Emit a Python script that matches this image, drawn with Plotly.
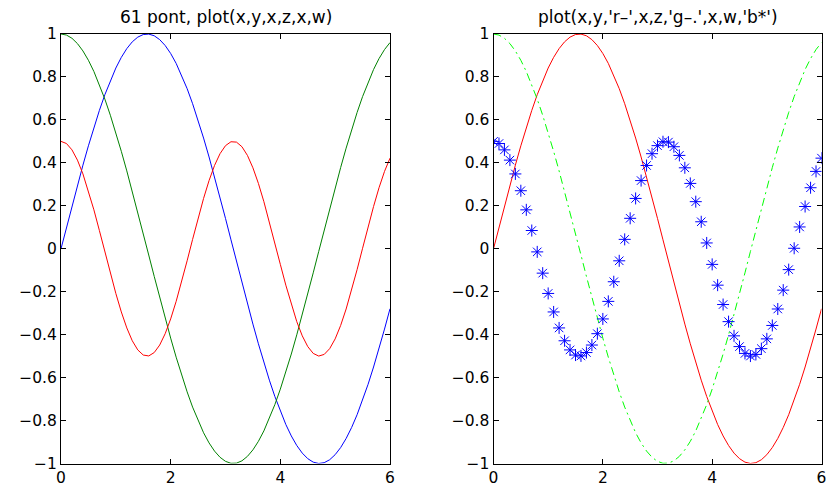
import plotly.graph_objects as go

# Sample abscissa: 61 points from 0 to 6
x = [0.0, 0.1, 0.2, 0.3, 0.4, 0.5, 0.6, 0.7, 0.8, 0.9,
     1.0, 1.1, 1.2, 1.3, 1.4, 1.5, 1.6, 1.7, 1.8, 1.9,
     2.0, 2.1, 2.2, 2.3, 2.4, 2.5, 2.6, 2.7, 2.8, 2.9,
     3.0, 3.1, 3.2, 3.3, 3.4, 3.5, 3.6, 3.7, 3.8, 3.9,
     4.0, 4.1, 4.2, 4.3, 4.4, 4.5, 4.6, 4.7, 4.8, 4.9,
     5.0, 5.1, 5.2, 5.3, 5.4, 5.5, 5.6, 5.7, 5.8, 5.9, 6.0]

y = [0.0000, 0.0998, 0.1987, 0.2955, 0.3894, 0.4794, 0.5646, 0.6442, 0.7174, 0.7833,
     0.8415, 0.8912, 0.9320, 0.9636, 0.9854, 0.9975, 0.9996, 0.9917, 0.9738, 0.9463,
     0.9093, 0.8632, 0.8085, 0.7457, 0.6755, 0.5985, 0.5155, 0.4274, 0.3350, 0.2392,
     0.1411, 0.0416, -0.0584, -0.1577, -0.2555, -0.3508, -0.4425, -0.5298, -0.6119, -0.6878,
     -0.7568, -0.8183, -0.8716, -0.9162, -0.9516, -0.9775, -0.9937, -0.9999, -0.9962, -0.9825,
     -0.9589, -0.9258, -0.8835, -0.8323, -0.7728, -0.7055, -0.6313, -0.5507, -0.4646, -0.3739,
     -0.2794]

z = [1.0000, 0.9950, 0.9801, 0.9553, 0.9211, 0.8776, 0.8253, 0.7648, 0.6967, 0.6216,
     0.5403, 0.4536, 0.3624, 0.2675, 0.1700, 0.0707, -0.0292, -0.1288, -0.2272, -0.3233,
     -0.4161, -0.5048, -0.5885, -0.6663, -0.7374, -0.8011, -0.8569, -0.9041, -0.9422, -0.9710,
     -0.9900, -0.9991, -0.9983, -0.9875, -0.9668, -0.9365, -0.8968, -0.8481, -0.7910, -0.7259,
     -0.6536, -0.5748, -0.4903, -0.4008, -0.3073, -0.2108, -0.1122, -0.0124, 0.0875, 0.1865,
     0.2837, 0.3780, 0.4685, 0.5544, 0.6347, 0.7087, 0.7756, 0.8347, 0.8855, 0.9275,
     0.9602]

w = [0.5000, 0.4900, 0.4605, 0.4127, 0.3484, 0.2702, 0.1812, 0.0850, -0.0146, -0.1136,
     -0.2081, -0.2943, -0.3687, -0.4285, -0.4711, -0.4950, -0.4991, -0.4834, -0.4484, -0.3955,
     -0.3268, -0.2451, -0.1536, -0.0561, 0.0437, 0.1418, 0.2343, 0.3174, 0.3878, 0.4427,
     0.4801, 0.4983, 0.4966, 0.4751, 0.4347, 0.3769, 0.3042, 0.2193, 0.1256, 0.0270,
     -0.0728, -0.1696, -0.2597, -0.3394, -0.4056, -0.4556, -0.4874, -0.4997, -0.4920, -0.4652,
     -0.4196, -0.3571, -0.2805, -0.1927, -0.0972, 0.0022, 0.1015, 0.1967, 0.2842, 0.3602,
     0.4219]

x_ticks = [0, 2, 4, 6]
x_ticktext = ["0", "2", "4", "6"]
y_ticks = [-1, -0.8, -0.6, -0.4, -0.2, 0, 0.2, 0.4, 0.6, 0.8, 1]
y_ticktext = ["\u22121", "\u22120.8", "\u22120.6", "\u22120.4", "\u22120.2", "0",
              "0.2", "0.4", "0.6", "0.8", "1"]

titles = ["61 pont, plot(x,y,x,z,x,w)", "plot(x,y,'r\u2013',x,z,'g\u2013.',x,w,'b*')"]

W, H = 826, 486
TICK_FONT = dict(family="DejaVu Sans, Liberation Sans, Arial", size=15.5, color="black")
TITLE_FONT = dict(family="DejaVu Sans, Liberation Sans, Arial", size=17, color="black")

fig = go.Figure()

# Left panel: default colour order
fig.add_trace(go.Scatter(x=x, y=y, mode="lines", line=dict(color="rgb(0,0,255)", width=1),
                         xaxis="x", yaxis="y"))
fig.add_trace(go.Scatter(x=x, y=z, mode="lines", line=dict(color="rgb(0,128,0)", width=1),
                         xaxis="x", yaxis="y"))
fig.add_trace(go.Scatter(x=x, y=w, mode="lines", line=dict(color="rgb(255,0,0)", width=1),
                         xaxis="x", yaxis="y"))

# Right panel: explicit line specs
fig.add_trace(go.Scatter(x=x, y=y, mode="lines", line=dict(color="rgb(255,0,0)", width=1),
                         xaxis="x2", yaxis="y2"))
fig.add_trace(go.Scatter(x=x, y=z, mode="lines",
                         line=dict(color="rgb(0,255,0)", width=1, dash="8px,4px,2px,4px"),
                         xaxis="x2", yaxis="y2"))
fig.add_trace(go.Scatter(x=x, y=w, mode="markers",
                         marker=dict(symbol="asterisk-open", size=10, color="rgb(0,0,255)",
                                     line=dict(color="rgb(0,0,255)", width=1)),
                         xaxis="x2", yaxis="y2"))

left_dom = [61 / W, 390 / W]
right_dom = [493.5 / W, 821.5 / W]
y_dom = [1 - 463.5 / H, 1 - 34 / H]

axis_common = dict(showgrid=False, zeroline=False, showline=True, linecolor="black",
                   linewidth=1, mirror="ticks", ticks="inside", ticklen=5,
                   tickcolor="black", tickwidth=1, tickfont=TICK_FONT, automargin=False,
                   ticklabeloverflow="allow")

fig.update_layout(
    width=W, height=H,
    margin=dict(l=0, r=0, t=0, b=0),
    paper_bgcolor="white", plot_bgcolor="white",
    showlegend=False,
    xaxis=dict(domain=left_dom, range=[0, 6], tickvals=x_ticks, ticktext=x_ticktext,
               anchor="y", **axis_common),
    yaxis=dict(domain=y_dom, range=[-1, 1], tickvals=y_ticks, ticktext=y_ticktext,
               anchor="x", **axis_common),
    xaxis2=dict(domain=right_dom, range=[0, 6], tickvals=x_ticks, ticktext=x_ticktext,
                anchor="y2", **axis_common),
    yaxis2=dict(domain=y_dom, range=[-1, 1], tickvals=y_ticks, ticktext=y_ticktext,
                anchor="x2", **axis_common),
)

for dom, text in zip([left_dom, right_dom], titles):
    fig.add_annotation(text=text, xref="paper", yref="paper",
                       x=(dom[0] + dom[1]) / 2, y=1 - 17 / H,
                       xanchor="center", yanchor="middle", showarrow=False, font=TITLE_FONT)

fig.write_html("out.html")
